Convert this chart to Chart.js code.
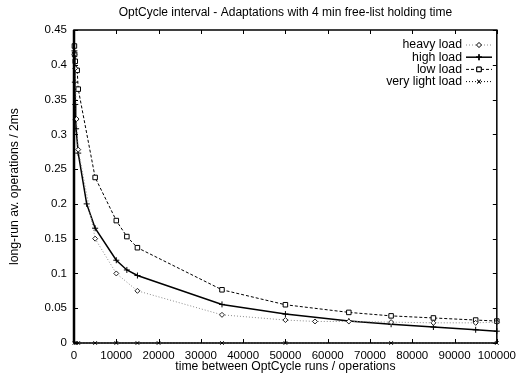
<!DOCTYPE html>
<html>
<head>
<meta charset="utf-8">
<script src="https://cdn.jsdelivr.net/npm/chart.js@4.4.1/dist/chart.umd.min.js"></script>
<style>
  html, body { margin: 0; padding: 0; background: #fff; }
</style>
</head>
<body>
<canvas id="chart" width="522" height="374"></canvas>
<script>
const chartTitle = 'OptCycle interval - Adaptations with 4 min free-list holding time'
const xTitle = 'time between OptCycle runs / operations'
const yTitle = 'long-run av. operations / 2ms'

const xTicks = [0, 10000, 20000, 30000, 40000, 50000, 60000, 70000, 80000, 90000, 100000]
const yTicks = [0, 0.05, 0.1, 0.15, 0.2, 0.25, 0.3, 0.35, 0.4, 0.45]

// series
const heavyX = [100, 300, 600, 1000, 5000, 10000, 15000, 35000, 50000, 57000, 65000, 75000, 85000, 95000, 100000]
const heavyY = [0.415, 0.395, 0.322, 0.278, 0.15, 0.1, 0.075, 0.0405, 0.033, 0.031, 0.031, 0.03, 0.029, 0.029, 0.03]

const highX = [100, 200, 300, 400, 500, 1000, 3000, 5000, 10000, 12500, 15000, 35000, 50000, 65000, 75000, 85000, 95000, 100000]
const highY = [0.42, 0.375, 0.343, 0.321, 0.308, 0.273, 0.2, 0.165, 0.119, 0.105, 0.097, 0.0555, 0.0416, 0.0315, 0.027, 0.023, 0.019, 0.017]

const lowX = [100, 150, 300, 750, 1000, 5000, 10000, 12500, 15000, 35000, 50000, 65000, 75000, 85000, 95000, 100000]
const lowY = [0.427, 0.415, 0.405, 0.392, 0.365, 0.238, 0.176, 0.153, 0.137, 0.0765, 0.055, 0.044, 0.039, 0.036, 0.033, 0.0315]

const lightX = [100, 500, 1000, 5000, 10000, 15000, 20000, 35000, 50000, 75000, 100000]
const lightY = [0, 0, 0, 0, 0, 0, 0, 0, 0, 0, 0]

const toPoints = (xs, ys) => xs.map((x, i) => ({x: x, y: ys[i]}))

const fontFamily = "'Liberation Sans', Arial, sans-serif"
Chart.defaults.font.family = fontFamily
Chart.defaults.font.size = 11.5
Chart.defaults.color = '#000'

// gnuplot style frame: box, inward ticks on all sides, title, legend
const framePlugin = {
    id: 'frame',
    afterDatasetsDraw(chart) {
        const ctx = chart.ctx
        const a = chart.chartArea
        const xs = chart.scales.x
        const ys = chart.scales.y
        ctx.save()
        ctx.strokeStyle = '#000'
        ctx.lineWidth = 1
        ctx.beginPath()
        xTicks.forEach(v => {
            const px = Math.round(xs.getPixelForValue(v)) + 0.5
            ctx.moveTo(px, a.bottom); ctx.lineTo(px, a.bottom - 4)
            ctx.moveTo(px, a.top); ctx.lineTo(px, a.top + 4)
        })
        yTicks.forEach(v => {
            const py = Math.round(ys.getPixelForValue(v)) + 0.5
            ctx.moveTo(a.left, py); ctx.lineTo(a.left + 4, py)
            ctx.moveTo(a.right, py); ctx.lineTo(a.right - 4, py)
        })
        ctx.stroke()
        ctx.lineWidth = 1.5
        ctx.strokeRect(a.left, a.top, a.right - a.left, a.bottom - a.top)
        ctx.lineWidth = 2.5
        ctx.beginPath()
        ctx.moveTo(a.left, a.top); ctx.lineTo(a.left, a.bottom)
        ctx.stroke()

        ctx.fillStyle = '#000'
        ctx.font = '12px ' + fontFamily
        ctx.textAlign = 'center'
        ctx.textBaseline = 'middle'
        ctx.fillText(chartTitle, (a.left + a.right) / 2, 13)

        // legend
        ctx.font = '12.3px ' + fontFamily
        ctx.textAlign = 'right'
        chart.data.datasets.forEach((ds, i) => {
            const y = 45 + i * 12.2
            ctx.fillStyle = '#000'
            ctx.fillText(ds.label, 462, y)
            ctx.strokeStyle = ds.borderColor
            ctx.lineWidth = ds.borderWidth
            ctx.setLineDash(ds.borderDash || [])
            ctx.beginPath()
            ctx.moveTo(466, y); ctx.lineTo(492, y)
            ctx.stroke()
            ctx.setLineDash([])
            Chart.helpers.drawPoint(ctx, {
                pointStyle: ds.pointStyle, radius: ds.pointRadius, rotation: 0, borderWidth: 1
            }, 479, y)
            ctx.fillStyle = '#fff'
            ctx.strokeStyle = ds.pointBorderColor
            ctx.lineWidth = 1
            ctx.fill()
            ctx.stroke()
        })
        ctx.restore()
    }
}

const ctx = document.getElementById('chart').getContext('2d')
const myChart = new Chart(ctx, {
    type: 'scatter',
    data: {
        datasets: [{
            label: 'heavy load',
            data: toPoints(heavyX, heavyY),
            showLine: true,
            borderColor: '#8a8a8a',
            borderWidth: 1,
            borderDash: [1, 2],
            pointStyle: 'rectRot',
            pointRadius: 2.5,
            pointBorderColor: '#222',
            pointBackgroundColor: '#fff',
            pointBorderWidth: 1
        }, {
            label: 'high load',
            data: toPoints(highX, highY),
            showLine: true,
            borderColor: '#000',
            borderWidth: 1.5,
            pointStyle: 'cross',
            pointRadius: 3,
            pointBorderColor: '#000',
            pointBackgroundColor: '#fff',
            pointBorderWidth: 1
        }, {
            label: 'low load',
            data: toPoints(lowX, lowY),
            showLine: true,
            borderColor: '#000',
            borderWidth: 1,
            borderDash: [3, 2],
            pointStyle: 'rect',
            pointRadius: 3.2,
            pointBorderColor: '#000',
            pointBackgroundColor: '#fff',
            pointBorderWidth: 1
        }, {
            label: 'very light load',
            data: toPoints(lightX, lightY),
            showLine: true,
            borderColor: '#000',
            borderWidth: 1,
            borderDash: [1, 2],
            pointStyle: 'crossRot',
            pointRadius: 2.5,
            pointBorderColor: '#000',
            pointBackgroundColor: '#fff',
            pointBorderWidth: 1
        }]
    },
    options: {
        responsive: false,
        animation: false,
        clip: false,
        layout: {padding: {left: 7, right: 20, top: 30, bottom: 0}},
        plugins: {
            legend: {display: false},
            title: {display: false},
            tooltip: {enabled: false}
        },
        scales: {
            x: {
                type: 'linear',
                min: 0,
                max: 100000,
                afterBuildTicks: scale => { scale.ticks = xTicks.map(v => ({value: v})) },
                afterFit: scale => { scale.height = 31 },
                ticks: {padding: 6, maxRotation: 0, callback: v => String(v)},
                grid: {display: false, drawTicks: false},
                border: {display: false},
                title: {display: true, text: xTitle, padding: 0, font: {size: 12.2}}
            },
            y: {
                type: 'linear',
                min: 0,
                max: 0.45,
                afterBuildTicks: scale => { scale.ticks = yTicks.map(v => ({value: v})) },
                afterFit: scale => { scale.width = 67 },
                ticks: {padding: 7, callback: v => String(v)},
                grid: {display: false, drawTicks: false},
                border: {display: false},
                title: {display: true, text: yTitle, padding: 0, font: {size: 12.2}}
            }
        }
    },
    plugins: [framePlugin]
})
</script>
</body>
</html>
